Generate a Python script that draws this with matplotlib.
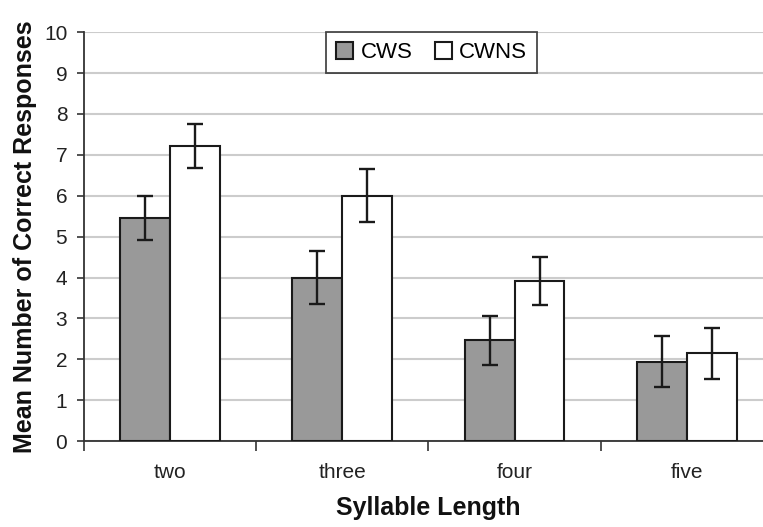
import matplotlib
matplotlib.use("Agg")
import matplotlib.pyplot as plt
import numpy as np

categories = ["two", "three", "four", "five"]
cws = [5.45, 4.0, 2.47, 1.94]
cws_err = [0.54, 0.65, 0.6, 0.62]
cwns = [7.22, 6.0, 3.92, 2.15]
cwns_err = [0.54, 0.65, 0.58, 0.62]

plt.rcParams['font.family'] = ['Liberation Sans', 'DejaVu Sans']

fig = plt.figure(figsize=(7.63, 5.27), dpi=100)
ax = fig.add_axes([0.110, 0.163, 0.903, 0.776])

x = np.arange(len(categories))
w = 0.29
ekw = dict(elinewidth=1.7, capthick=1.7, ecolor='#1a1a1a')
ax.bar(x - w/2, cws, w, yerr=cws_err, capsize=5.5, color='#999999',
       edgecolor='#1a1a1a', linewidth=1.5, label='CWS', error_kw=ekw, zorder=3)
ax.bar(x + w/2, cwns, w, yerr=cwns_err, capsize=5.5, color='white',
       edgecolor='#1a1a1a', linewidth=1.5, label='CWNS', error_kw=ekw, zorder=3)

ax.set_xlim(-0.5, 3.5)
ax.set_ylim(0, 10)
ax.set_yticks(range(0, 11))
ax.yaxis.grid(True, color='#cccccc', linewidth=1.5, zorder=0)
ax.set_axisbelow(True)

ax.set_xticks(x)
ax.set_xticklabels(categories)
ax.tick_params(axis='x', which='major', length=0, pad=16, labelsize=15, labelcolor='#222222')
ax.set_xticks([-0.5, 0.5, 1.5, 2.5], minor=True)
ax.tick_params(axis='x', which='minor', length=7, width=1.2, direction='out', color='#333333')
ax.tick_params(axis='y', length=5, width=1.2, direction='out', labelsize=15, pad=7,
               color='#333333', labelcolor='#222222')

for s in ['top', 'right']:
    ax.spines[s].set_visible(False)
for s in ['left', 'bottom']:
    ax.spines[s].set_color('#333333')
    ax.spines[s].set_linewidth(1.3)

ax.set_ylabel('Mean Number of Correct Responses', fontsize=18, fontweight='bold', labelpad=5,
              color='#111111')
ax.set_xlabel('Syllable Length', fontsize=18, fontweight='bold', labelpad=10, color='#111111')

leg = ax.legend(loc='upper center', bbox_to_anchor=(0.505, 1.0), ncol=2, fontsize=16,
                frameon=True, fancybox=False, edgecolor='#1a1a1a', handlelength=0.75,
                handleheight=0.75, handletextpad=0.35, columnspacing=1.0, borderpad=0.45,
                borderaxespad=0.0)
leg.get_frame().set_linewidth(1.3)
for h in leg.legend_handles:
    h.set_linewidth(1.5)

fig.savefig('out.png', dpi=100)
